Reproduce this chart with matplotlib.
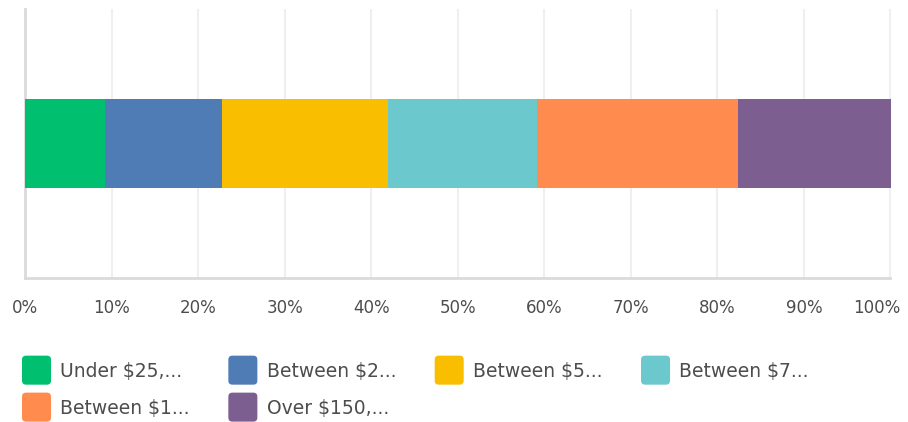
import matplotlib
matplotlib.use("Agg")
import matplotlib.pyplot as plt
from matplotlib.patches import Patch, FancyBboxPatch
from matplotlib.legend_handler import HandlerBase
from matplotlib.transforms import ScaledTranslation

plt.rcParams['font.family'] = ['DejaVu Sans']

# data
categories = ["Under \\$25,...", "Between \\$2...", "Between \\$5...",
              "Between \\$7...", "Between \\$1...", "Over \\$150,..."]
values = [9.2, 13.6, 19.1, 17.2, 23.3, 17.6]
colors = ["#00bf6f", "#507cb6", "#f9be00", "#6bc8cd", "#ff8b4f", "#7d5e90"]
tick_values = [0, 10, 20, 30, 40, 50, 60, 70, 80, 90, 100]
tick_labels = [f"{v}%" for v in tick_values]

W, H = 908, 422
fig = plt.figure(figsize=(W / 100, H / 100), dpi=100)
ax = fig.add_axes([25 / W, 1 - 278 / H, (890.5 - 25) / W, (278 - 9) / H])

left = 0
for val, col, cat in zip(values, colors, categories):
    ax.barh(0, val, left=left, height=0.329, color=col, label=cat, zorder=3, linewidth=0)
    left += val

ax.set_xlim(0, 100)
ax.set_ylim(-0.5, 0.5)
ax.set_yticks([])
ax.set_xticks(tick_values)
ax.set_xticklabels(tick_labels)
ax.tick_params(axis='x', length=0, pad=15, labelsize=12, labelcolor="#4d4d4d")
ax.grid(axis='x', color="#efefef", linewidth=1.5, zorder=0)
for s in ['top', 'right']:
    ax.spines[s].set_visible(False)
for s in ['left', 'bottom']:
    ax.spines[s].set_color("#dadada")
    ax.spines[s].set_linewidth(2)

# shift last tick label inward
lbls = ax.get_xticklabels()
lbls[-1].set_transform(lbls[-1].get_transform() + ScaledTranslation(-14 / 100, 0, fig.dpi_scale_trans))

LEG_FS = 13.5


class RoundHandler(HandlerBase):
    def create_artists(self, legend, orig_handle, xdescent, ydescent, width, height, fontsize, trans):
        side = width
        r = 0.14 * side
        cy = 0.36 * fontsize
        x0 = -xdescent
        y0 = cy - side / 2
        p = FancyBboxPatch((x0 + r, y0 + r), side - 2 * r, side - 2 * r,
                           boxstyle=f"round,pad={r}", fc=orig_handle.get_facecolor(),
                           ec='none', transform=trans)
        return [p]


handles = [Patch(facecolor=c, label=l) for c, l in zip(colors, categories)]
order = [0, 4, 1, 5, 2, 3]
leg = fig.legend([handles[i] for i in order], [categories[i] for i in order],
                 loc='upper left', bbox_to_anchor=(22 / W, 1 - 359 / H),
                 ncol=4, frameon=False, fontsize=LEG_FS, borderpad=0, borderaxespad=0,
                 handlelength=20.9 / LEG_FS, handleheight=1.55, handletextpad=0.5,
                 labelspacing=0.72, columnspacing=2.05,
                 handler_map={Patch: RoundHandler()})
for t in leg.get_texts():
    t.set_color("#4d4d4d")

fig.savefig("out.png", dpi=100)
